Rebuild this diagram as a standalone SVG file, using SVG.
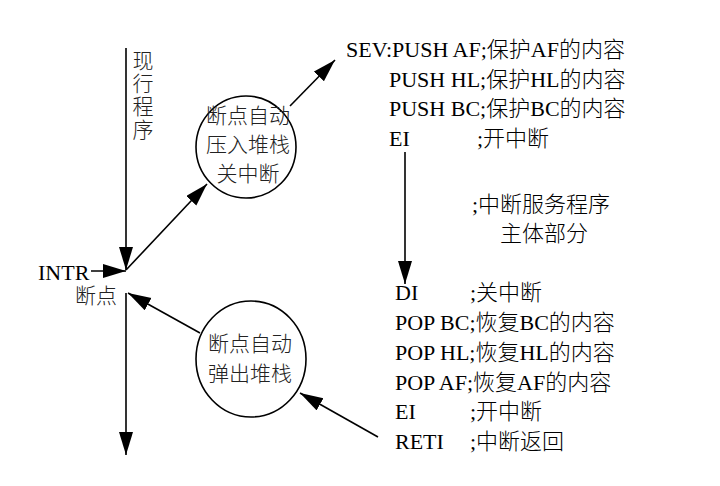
<svg xmlns="http://www.w3.org/2000/svg" width="720" height="486" viewBox="0 0 720 486">
<style>
.t{font-family:"Liberation Serif","Noto Sans CJK SC",serif;font-size:22px;font-weight:300;fill:#000}
.c{font-family:"Noto Sans CJK SC",sans-serif;font-size:21px;font-weight:300;fill:#222}
.m{text-anchor:middle}
.ln{stroke:#000;stroke-width:1.6;fill:none;marker-end:url(#ah)}
.nd{fill:#fff;stroke:#000;stroke-width:1.6}
</style>
<defs>
<marker id="ah" markerUnits="userSpaceOnUse" markerWidth="24" markerHeight="16" refX="23" refY="7" orient="auto">
<path d="M0,0 L23,7 L0,14 Z" fill="#000"/>
</marker>
</defs>
<rect width="720" height="486" fill="#fff"/>
<g id="connectors">
<path class="ln" d="M126,48 V270"/>
<path class="ln" d="M91,271 H126"/>
<path class="ln" d="M126,270 L207,184"/>
<path class="ln" d="M290,106 L335,60"/>
<path class="ln" d="M200,333 L128,293"/>
<path class="ln" d="M126,293 V455"/>
<path class="ln" d="M378,437 L300,393"/>
<path class="ln" d="M405,152 V284"/>
</g>
<g id="node-push">
<ellipse class="nd" cx="246" cy="147" rx="50" ry="51"/>
<text class="c m" x="248" y="123">断点自动</text>
<text class="c m" x="248" y="152">压入堆栈</text>
<text class="c m" x="248" y="181">关中断</text>
</g>
<g id="node-pop">
<ellipse class="nd" cx="251" cy="359" rx="55" ry="58"/>
<text class="c m" x="250" y="351">断点自动</text>
<text class="c m" x="250" y="381">弹出堆栈</text>
</g>
<g id="label-program">
<text class="c" x="143" y="50" style="writing-mode:vertical-rl;letter-spacing:1.7px">现行程序</text>
</g>
<g id="label-intr">
<text class="t" x="38" y="280">INTR</text>
<text class="c" x="75" y="303">断点</text>
</g>
<g id="code-service">
<text class="t" x="346" y="57">SEV:PUSH AF;保护AF的内容</text>
<text class="t" x="389" y="87">PUSH HL;保护HL的内容</text>
<text class="t" x="389" y="116">PUSH BC;保护BC的内容</text>
<text class="t" x="389" y="146">EI</text>
<text class="t" x="477" y="146">;开中断</text>
<text class="t" x="472" y="212">;中断服务程序</text>
<text class="t" x="500" y="241">主体部分</text>
<text class="t" x="395" y="300">DI</text>
<text class="t" x="470" y="300">;关中断</text>
<text class="t" x="395" y="330">POP BC;恢复BC的内容</text>
<text class="t" x="395" y="360">POP HL;恢复HL的内容</text>
<text class="t" x="395" y="390">POP AF;恢复AF的内容</text>
<text class="t" x="395" y="419">EI</text>
<text class="t" x="470" y="419">;开中断</text>
<text class="t" x="395" y="449">RETI</text>
<text class="t" x="470" y="449">;中断返回</text>
</g>
</svg>
